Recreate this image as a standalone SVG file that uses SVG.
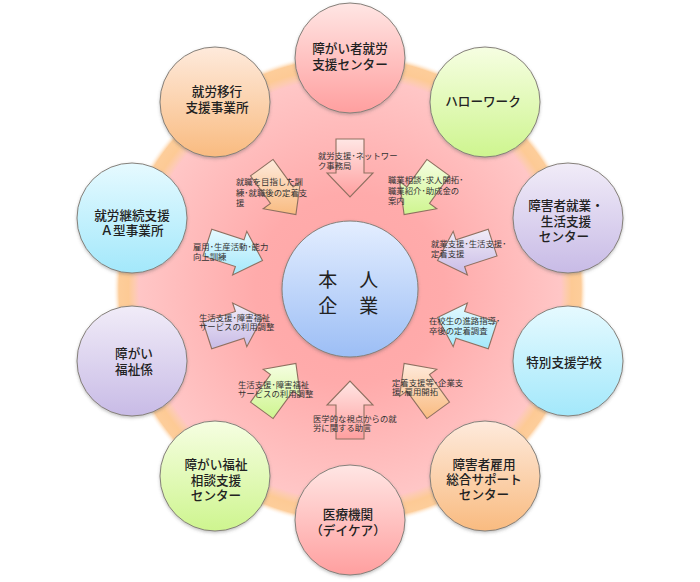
<svg xmlns="http://www.w3.org/2000/svg" width="700" height="582" viewBox="0 0 700 582">
<style>
text{font-family:"Noto Sans CJK JP","Noto Sans",sans-serif;fill:#222}
.n circle{stroke:#85807a;stroke-width:1;filter:url(#sh)}
.t{font-size:12.6px;text-anchor:middle;font-weight:500}
.c{font-size:19px;text-anchor:middle;letter-spacing:1.5px;font-weight:400}
.a polygon{stroke:#8f7060;stroke-width:1.1}
.l{font-size:8.4px;fill:#333}
</style>
<defs>
<filter id="sh" x="-10%" y="-10%" width="120%" height="120%"><feDropShadow dx="0" dy="1.5" stdDeviation="1.5" flood-color="#555" flood-opacity=".35"/></filter>
<radialGradient id="bg" gradientUnits="userSpaceOnUse" cx="350" cy="289" r="237">
<stop offset="0" stop-color="#ffa6a6"/><stop offset=".4" stop-color="#ffabab"/><stop offset=".89" stop-color="#ffc6c6"/><stop offset=".91" stop-color="#fdcbb0"/><stop offset=".935" stop-color="#fdca95"/><stop offset=".975" stop-color="#fdcd9a"/><stop offset="1" stop-color="#fff" stop-opacity="0"/>
</radialGradient>
<linearGradient id="pk" x2="0" y2="1"><stop offset="0" stop-color="#ffe6e4"/><stop offset="1" stop-color="#ff9f9f"/></linearGradient>
<linearGradient id="or" x2="0" y2="1"><stop offset="0" stop-color="#feeadc"/><stop offset="1" stop-color="#f9bb80"/></linearGradient>
<linearGradient id="gr" x2="0" y2="1"><stop offset="0" stop-color="#f6fee2"/><stop offset="1" stop-color="#cef58f"/></linearGradient>
<linearGradient id="pu" x2="0" y2="1"><stop offset="0" stop-color="#f1ecf8"/><stop offset="1" stop-color="#c8bbe6"/></linearGradient>
<linearGradient id="cy" x2="0" y2="1"><stop offset="0" stop-color="#e6faff"/><stop offset="1" stop-color="#a3e8fb"/></linearGradient>
<linearGradient id="bl" x2="0" y2="1"><stop offset="0" stop-color="#e4eeff"/><stop offset="1" stop-color="#9cbef5"/></linearGradient>
</defs>
<circle cx="350" cy="289" r="237" fill="url(#bg)"/>
<g id="connectors" class="a">
<polygon fill="url(#pk)" points="336,139 364,139 364,173 373,173 350,197 327,173 336,173"/>
<polygon fill="url(#gr)" points="426.9,159.4 449.5,175.9 429.5,203.4 436.8,208.7 404.1,214.6 399.6,181.6 406.9,186.9"/>
<polygon fill="url(#pu)" points="488.3,229.3 497,256 464.6,266.5 467.4,275 437.5,260.6 453.2,231.3 456,239.8"/>
<polygon fill="url(#cy)" points="497,322 488.3,348.7 456,338.2 453.2,346.7 437.5,317.4 467.4,303 464.6,311.5"/>
<polygon fill="url(#or)" points="449.5,402.1 426.9,418.6 406.9,391.1 399.6,396.4 404.1,363.4 436.8,369.3 429.5,374.6"/>
<polygon fill="url(#pk)" points="364,439 336,439 336,405 327,405 350,381 373,405 364,405"/>
<polygon fill="url(#gr)" points="250.5,402.1 273.1,418.6 293.1,391.1 300.4,396.4 295.9,363.4 263.2,369.3 270.5,374.6"/>
<polygon fill="url(#pu)" points="203,322 211.7,348.7 244,338.2 246.8,346.7 262.5,317.4 232.6,303 235.4,311.5"/>
<polygon fill="url(#cy)" points="211.7,229.3 203,256 235.4,266.5 232.6,275 262.5,260.6 246.8,231.3 244,239.8"/>
<polygon fill="url(#or)" points="273.1,159.4 250.5,175.9 270.5,203.4 263.2,208.7 295.9,214.6 300.4,181.6 293.1,186.9"/>
</g>
<g id="labels">
<text class="l" x="318" y="159">就労支援･ネットワー</text><text class="l" x="318" y="169">ク事務局</text>
<text class="l" x="236" y="185">就職を目指した訓</text><text class="l" x="236" y="196">練･就職後の定着支</text><text class="l" x="236" y="206">援</text>
<text class="l" x="388" y="183">職業相談･求人開拓･</text><text class="l" x="388" y="194">職業紹介･助成金の</text><text class="l" x="388" y="204">案内</text>
<text class="l" x="431" y="247">就業支援･生活支援･</text><text class="l" x="431" y="257">定着支援</text>
<text class="l" x="429" y="324">在校生の進路指導･</text><text class="l" x="429" y="334">卒後の定着調査</text>
<text class="l" x="392" y="386">定着支援等･企業支</text><text class="l" x="392" y="395">援･雇用開拓</text>
<text class="l" x="313" y="422">医学的な視点からの就</text><text class="l" x="313" y="431">労に関する助言</text>
<text class="l" x="238" y="388">生活支援･障害福祉</text><text class="l" x="238" y="397">サービスの利用調整</text>
<text class="l" x="199" y="321">生活支援･障害福祉</text><text class="l" x="199" y="330">サービスの利用調整</text>
<text class="l" x="193" y="250">雇用･生産活動･能力</text><text class="l" x="193" y="260">向上訓練</text>
</g>
<g id="honnin" class="n"><circle cx="350" cy="289" r="68" fill="url(#bl)"/><text class="c" x="349" y="287">本　人</text><text class="c" x="349" y="313">企　業</text></g>
<g id="n1" class="n"><circle cx="350" cy="58" r="55" fill="url(#pk)"/><text class="t" x="350" y="53">障がい者就労</text><text class="t" x="350" y="69">支援センター</text></g>
<g id="n2" class="n"><circle cx="485" cy="102" r="55" fill="url(#gr)"/><text class="t" x="483" y="106">ハローワーク</text></g>
<g id="n3" class="n"><circle cx="568" cy="218" r="55" fill="url(#pu)"/><text class="t" x="566" y="210">障害者就業・</text><text class="t" x="566" y="226">生活支援</text><text class="t" x="564" y="241">センター</text></g>
<g id="n4" class="n"><circle cx="568" cy="361" r="55" fill="url(#cy)"/><text class="t" x="564" y="367">特別支援学校</text></g>
<g id="n5" class="n"><circle cx="485" cy="476" r="55" fill="url(#or)"/><text class="t" x="484" y="469">障害者雇用</text><text class="t" x="484" y="484">総合サポート</text><text class="t" x="484" y="499">センター</text></g>
<g id="n6" class="n"><circle cx="350" cy="520" r="55" fill="url(#pk)"/><text class="t" x="348" y="519">医療機関</text><text class="t" x="348" y="535">（デイケア）</text></g>
<g id="n7" class="n"><circle cx="215" cy="476" r="55" fill="url(#gr)"/><text class="t" x="216" y="469">障がい福祉</text><text class="t" x="216" y="485">相談支援</text><text class="t" x="216" y="500">センター</text></g>
<g id="n8" class="n"><circle cx="132" cy="361" r="55" fill="url(#pu)"/><text class="t" x="134" y="358">障がい</text><text class="t" x="134" y="374">福祉係</text></g>
<g id="n9" class="n"><circle cx="132" cy="218" r="55" fill="url(#cy)"/><text class="t" x="132" y="220">就労継続支援</text><text class="t" x="132" y="235">Ａ型事業所</text></g>
<g id="n10" class="n"><circle cx="215" cy="102" r="55" fill="url(#or)"/><text class="t" x="217" y="96">就労移行</text><text class="t" x="217" y="112">支援事業所</text></g>
</svg>
